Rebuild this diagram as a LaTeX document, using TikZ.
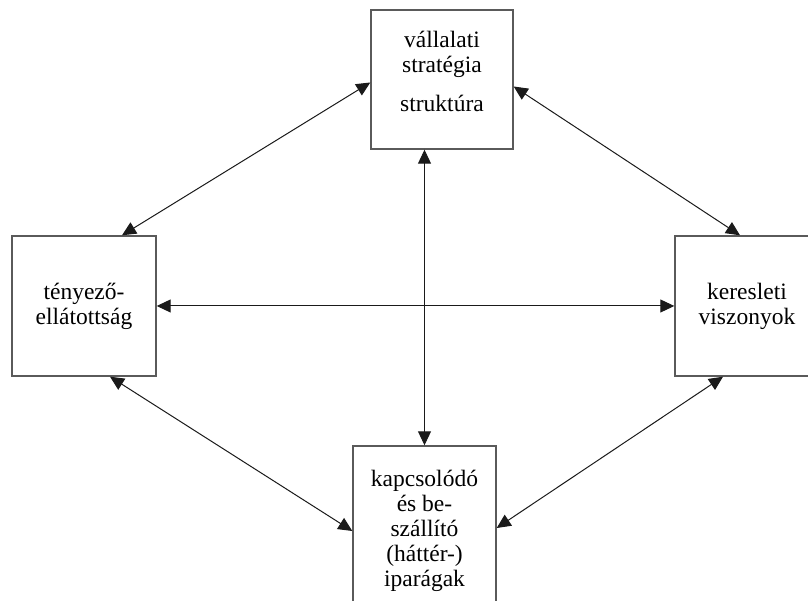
\documentclass[tikz,border=0pt]{standalone}
\usepackage{fontspec}
\setmainfont{Liberation Serif}
\usepackage{tikz}
\usetikzlibrary{arrows.meta,positioning}
\definecolor{pframe}{HTML}{5A5A5A}
\definecolor{plinkc}{HTML}{1A1A1A}
\tikzset{
  >={Triangle[length=14pt,width=13pt]},
  pbox/.style={rectangle, draw=pframe, line width=1.4pt, align=center,
               font=\fontsize{23.5}{25}\selectfont, inner sep=2pt},
  plink/.style={<->, plinkc, line width=1pt},
}

\begin{document}
\begin{tikzpicture}[x=1pt,y=1pt]
  \useasboundingbox (0,0) rectangle (808,601);

  \node[pbox, minimum width=142pt, minimum height=139pt, text height=81pt, text depth=17pt]
        (strat) at (442,521.5) {vállalati\\stratégia\\[14pt]struktúra};
  \node[pbox, minimum width=144pt, minimum height=140pt] (tenyezo) at (84,295)  {tényező-\\ellátottság};
  \node[pbox, minimum width=144pt, minimum height=140pt] (kereslet) at (747,295) {keresleti\\viszonyok};
  \node[pbox, minimum width=143pt, minimum height=170pt] (ipar) at (424.5,70)
        {kapcsolódó\\és be-\\szállító\\(háttér-)\\iparágak};

  \draw[plink] ([yshift=-3pt]strat.west) -- ([xshift=38pt]tenyezo.north);
  \draw[plink] ([yshift=-7pt]strat.east) -- ([xshift=-7pt]kereslet.north);
  \draw[plink] (tenyezo.east) -- (kereslet.west);
  \draw[plink] (ipar.north |- strat.south) -- (ipar.north);
  \draw[plink] ([xshift=26pt]tenyezo.south) -- (ipar.west);
  \draw[plink] ([xshift=-24pt]kereslet.south) -- ([yshift=3pt]ipar.east);

\end{tikzpicture}
\end{document}
